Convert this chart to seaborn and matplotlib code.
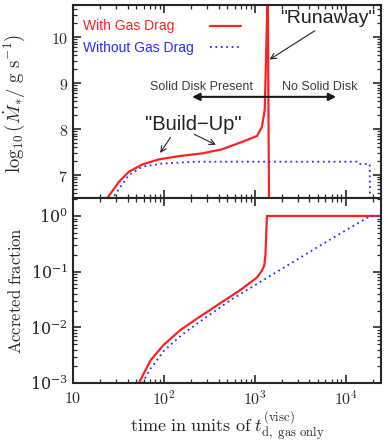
import numpy as np
import pandas as pd
import matplotlib
matplotlib.use("Agg")
import matplotlib.pyplot as plt
import matplotlib.ticker as mticker
import seaborn as sns

# ---------------- data ----------------
# top panel: log10 Mdot vs time
red_top_t = [22.9, 32.0, 41.2, 57.9, 88.1, 146.0, 263.0, 437.0, 724.0, 1062.0, 1202.0, 1288.0, 1390.0, 1439.0]
red_top_v = [6.45, 6.85, 7.07, 7.23, 7.34, 7.41, 7.47, 7.56, 7.72, 7.85, 8.05, 8.42, 11.0, 6.0]
blue_top_t = [26.3, 41.2, 57.9, 95.5, 224.0, 13300.0, 13800.0, 18400.0, 18600.0]
blue_top_v = [6.45, 7.0, 7.18, 7.25, 7.29, 7.29, 7.24, 7.24, 6.0]

# bottom panel: accreted fraction vs time
red_bot_t = [53.1, 71.4, 100.0, 151.0, 233.0, 386.0, 697.0, 1062.0, 1202.0, 1274.0, 1312.0, 1334.0, 1360.0, 24500.0]
red_bot_f = [1.0e-3, 2.57e-3, 4.9e-3, 8.9e-3, 1.45e-2, 2.5e-2, 4.7e-2, 7.9e-2, 0.105, 0.13, 0.2, 0.4, 1.0, 1.0]
blue_bot_t = [57.9, 70.8, 100.0, 158.0, 233.0, 541.0, 1762.0, 5623.0, 18600.0, 24500.0]
blue_bot_f = [1.0e-3, 1.78e-3, 3.8e-3, 7.4e-3, 1.17e-2, 3.1e-2, 0.1, 0.316, 1.0, 1.0]

x_ticks = [10, 100, 1000, 10000]
x_ticklabels = ["$10$", "$10^2$", "$10^3$", "$10^4$"]
top_yticks = [7, 8, 9, 10]

RED = "#ff2020"
BLUE = "#2a2aff"
GRAY = "#3c3c3c"

# ---------------- style ----------------
sns.set_style("ticks")
plt.rcParams["font.family"] = ["DejaVu Serif"]
plt.rcParams["mathtext.fontset"] = "cm"
plt.rcParams["axes.linewidth"] = 1.5
plt.rcParams["xtick.direction"] = "in"
plt.rcParams["ytick.direction"] = "in"
plt.rcParams["xtick.major.size"] = 6
plt.rcParams["ytick.major.size"] = 6
plt.rcParams["xtick.minor.size"] = 3
plt.rcParams["ytick.minor.size"] = 3
plt.rcParams["xtick.major.width"] = 1.2
plt.rcParams["ytick.major.width"] = 1.2
plt.rcParams["xtick.minor.width"] = 0.9
plt.rcParams["ytick.minor.width"] = 0.9

fig = plt.figure(figsize=(3.88, 4.45), dpi=100)
ax1 = fig.add_axes([0.188, 0.555, 0.794, 0.434])
ax2 = fig.add_axes([0.188, 0.139, 0.794, 0.416], sharex=ax1)

XMIN, XMAX = 10, 24500

# ---------------- top panel ----------------
df_rt = pd.DataFrame({"t": red_top_t, "v": red_top_v})
df_bt = pd.DataFrame({"t": blue_top_t, "v": blue_top_v})
sns.lineplot(data=df_rt, x="t", y="v", ax=ax1, sort=False, estimator=None,
             color=RED, lw=1.6, label="With Gas Drag" + " " * 5)
sns.lineplot(data=df_bt, x="t", y="v", ax=ax1, sort=False, estimator=None,
             color=BLUE, lw=1.3, linestyle=(0, (1, 2)), label="Without Gas Drag")
ax1.set_xscale("log")
ax1.set_xlim(XMIN, XMAX)
ax1.set_ylim(6.5, 10.7)
ax1.set_yticks(top_yticks)
ax1.set_yticklabels([f"${v}$" for v in top_yticks])
minors = [n + np.log10(k) for n in range(6, 11) for k in range(2, 10)]
ax1.yaxis.set_minor_locator(mticker.FixedLocator(minors))
ax1.set_xlabel("")
ax1.set_ylabel(r"$\log_{10}(\dot{M}_{*}/\ \mathrm{g\ s^{-1}})$", fontsize=13.5)
ax1.yaxis.set_label_coords(-0.15, 0.49)
ax1.tick_params(axis="both", which="both", top=True, right=True, labelbottom=False, labelsize=11.5)

leg = ax1.legend(loc="upper left", bbox_to_anchor=(0.032, 0.925), frameon=False,
                 markerfirst=False, labelcolor="linecolor", handlelength=2.2,
                 handletextpad=1.2, labelspacing=0.55, borderaxespad=0, borderpad=0,
                 prop={"family": "Liberation Sans", "size": 10})

ann_font = {"family": "Liberation Sans"}
ax1.text(6300, 10.41, "\"Runaway\"", ha="center", va="center", fontsize=14,
         color="#202020", fontdict=ann_font)
ax1.annotate("", xy=(1372, 9.48), xytext=(4860, 10.17),
             arrowprops=dict(arrowstyle="->", color="#202020", lw=0.8,
                             mutation_scale=10))
ax1.text(258, 8.91, "Solid Disk Present", ha="center", va="center", fontsize=9,
         color=GRAY, fontdict=ann_font)
ax1.text(5130, 8.91, "No Solid Disk", ha="center", va="center", fontsize=9,
         color=GRAY, fontdict=ann_font)
ax1.annotate("", xy=(205, 8.70), xytext=(7870, 8.70),
             arrowprops=dict(arrowstyle="<|-|>", color="#1a1a1a", lw=1.5,
                             mutation_scale=11, shrinkA=0, shrinkB=0))
ax1.text(211, 8.09, "\"Build\u2212Up\"", ha="center", va="center", fontsize=14.5,
         color="#202020", fontdict=ann_font)
ax1.annotate("", xy=(87.7, 7.43), xytext=(123, 7.87),
             arrowprops=dict(arrowstyle="->", color="#202020", lw=0.8, mutation_scale=10))
ax1.annotate("", xy=(398, 7.63), xytext=(204, 7.91),
             arrowprops=dict(arrowstyle="->", color="#202020", lw=0.8, mutation_scale=10))

# ---------------- bottom panel ----------------
df_rb = pd.DataFrame({"t": red_bot_t, "f": red_bot_f})
df_bb = pd.DataFrame({"t": blue_bot_t, "f": blue_bot_f})
sns.lineplot(data=df_rb, x="t", y="f", ax=ax2, sort=False, estimator=None,
             color=RED, lw=1.6)
sns.lineplot(data=df_bb, x="t", y="f", ax=ax2, sort=False, estimator=None,
             color=BLUE, lw=1.3, linestyle=(0, (1, 2)))
ax2.set_yscale("log")
ax2.set_ylim(1e-3, 2.1)
ax2.set_xlim(XMIN, XMAX)
ax2.set_xticks(x_ticks)
ax2.set_xticklabels(x_ticklabels)
ax2.xaxis.set_minor_locator(mticker.LogLocator(base=10, subs=np.arange(2, 10), numticks=20))
ax2.xaxis.set_minor_formatter(mticker.NullFormatter())
ax2.yaxis.set_major_locator(mticker.FixedLocator([1e-3, 1e-2, 1e-1, 1e0]))
ax2.yaxis.set_major_formatter(mticker.LogFormatterMathtext())
ax2.yaxis.set_minor_locator(mticker.LogLocator(base=10, subs=np.arange(2, 10), numticks=20))
ax2.yaxis.set_minor_formatter(mticker.NullFormatter())
ax2.set_ylabel(r"$\mathrm{Accreted\ fraction}$", fontsize=12)
ax2.yaxis.set_label_coords(-0.155, 0.5)
ax2.set_xlabel(r"$\mathrm{time\ in\ units\ of\ }t_{\mathrm{d,\ gas\ only}}^{(\mathrm{visc})}$",
               fontsize=13, labelpad=1)
ax2.tick_params(axis="both", which="both", top=True, right=True, labelsize=11.5)
ax2.tick_params(axis="x", which="major", pad=5)
if ax2.get_legend() is not None:
    ax2.get_legend().remove()

fig.savefig("out.png", dpi=100)
